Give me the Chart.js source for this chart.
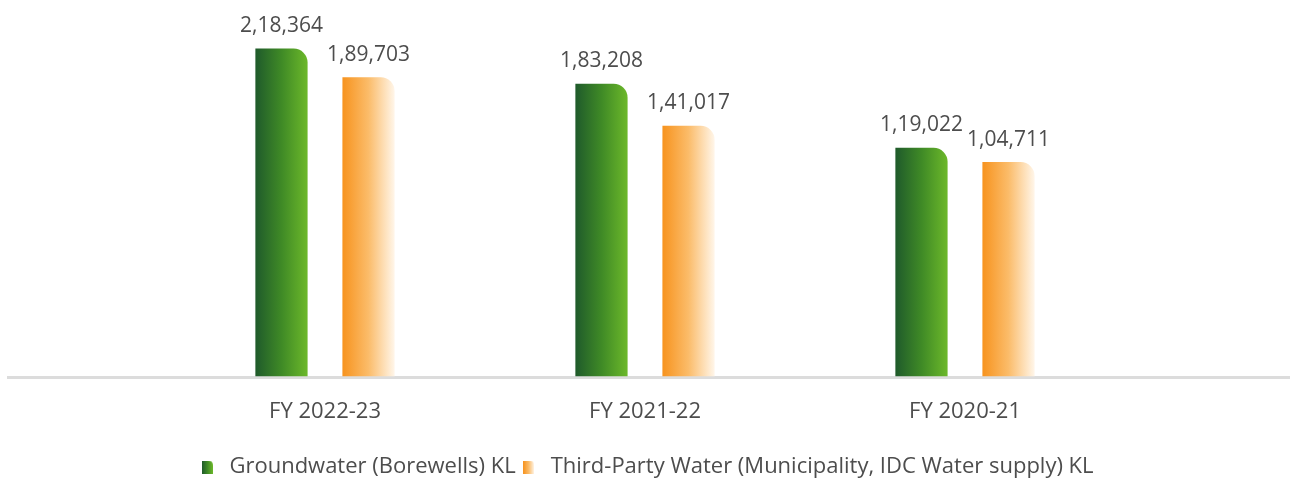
<!DOCTYPE html>
<html>
<head>
<meta charset="utf-8">
<script src="https://cdn.jsdelivr.net/npm/chart.js@4"></script>
<style>
  html, body { margin: 0; padding: 0; background: #fff; }
  #wrap { width: 1290px; height: 482px; position: relative; }
</style>
</head>
<body>
<div id="wrap"><canvas id="waterChart"></canvas></div>
<script>
const categories = ['FY 2022-23', 'FY 2021-22', 'FY 2020-21'];
const groundwater = [218364, 183208, 119022];
const thirdParty = [189703, 141017, 104711];
const seriesNames = ['Groundwater (Borewells) KL', 'Third-Party Water (Municipality, IDC Water supply) KL'];

const FONT = '"Open Sans", sans-serif';
const TEXT = '#4d4d4d';
const AXIS_MIN = -110000; // bars start from the baseline, not from zero

// left -> right gradient stops for each series
const greenStops = ['#1f5a2b', '#3f8a26', '#6cb82a'];
const orangeStops = ['#f7931e', '#fbbc6a', '#fff6ea'];

// Indian digit grouping: 2,18,364
function fmt(n) {
  const s = String(n);
  if (s.length <= 3) return s;
  let last3 = s.slice(-3);
  let rest = s.slice(0, -3).replace(/\B(?=(\d{2})+(?!\d))/g, ',');
  return rest + ',' + last3;
}

function makeGrad(c, x0, x1, stops) {
  const g = c.createLinearGradient(x0, 0, x1, 0);
  stops.forEach((col, i) => g.addColorStop(i / (stops.length - 1), col));
  return g;
}

function legendIcon(stops) {
  const cv = document.createElement('canvas');
  cv.width = 11; cv.height = 13;
  const c = cv.getContext('2d');
  c.fillStyle = makeGrad(c, 0, 11, stops);
  c.beginPath();
  c.moveTo(0, 0);
  c.lineTo(6, 0);
  c.quadraticCurveTo(11, 0, 11, 5);
  c.lineTo(11, 13);
  c.lineTo(0, 13);
  c.closePath();
  c.fill();
  return cv;
}

// options are per bar (scriptable colour), so each bar gets its own gradient
const barGradients = {
  id: 'barGradients',
  beforeDatasetsDraw(chart) {
    const c = chart.ctx;
    chart.data.datasets.forEach((ds, di) => {
      chart.getDatasetMeta(di).data.forEach(bar => {
        const x0 = bar.x - bar.width / 2;
        bar.options.backgroundColor = makeGrad(c, x0, x0 + bar.width, ds.gradStops);
      });
    });
  }
};

const baseLine = {
  id: 'baseLine',
  beforeDatasetsDraw(chart) {
    const c = chart.ctx;
    const y = chart.chartArea.bottom + 1;
    c.save();
    c.strokeStyle = '#dcdcdc';
    c.lineWidth = 3;
    c.beginPath();
    c.moveTo(7, y);
    c.lineTo(chart.width, y);
    c.stroke();
    c.restore();
  }
};

const valueLabels = {
  id: 'valueLabels',
  afterDatasetsDraw(chart) {
    const c = chart.ctx;
    c.save();
    c.font = '21px ' + FONT;
    c.fillStyle = TEXT;
    c.textAlign = 'center';
    c.textBaseline = 'bottom';
    chart.data.datasets.forEach((ds, di) => {
      chart.getDatasetMeta(di).data.forEach((bar, i) => {
        c.fillText(fmt(ds.data[i]), bar.x, bar.y - 12);
      });
    });
    c.restore();
  }
};

new Chart(document.getElementById('waterChart'), {
  type: 'bar',
  data: {
    labels: categories,
    datasets: [
      {
        label: seriesNames[0],
        data: groundwater,
        gradStops: greenStops,
        backgroundColor: () => '#3f8a26',
        pointStyle: legendIcon(greenStops),
        base: AXIS_MIN,
        borderRadius: { topRight: 14 },
        borderSkipped: false,
        barPercentage: 0.6,
        categoryPercentage: 0.544
      },
      {
        label: seriesNames[1],
        data: thirdParty,
        gradStops: orangeStops,
        backgroundColor: () => '#f7931e',
        pointStyle: legendIcon(orangeStops),
        base: AXIS_MIN,
        borderRadius: { topRight: 14 },
        borderSkipped: false,
        barPercentage: 0.6,
        categoryPercentage: 0.544
      }
    ]
  },
  options: {
    responsive: true,
    maintainAspectRatio: false,
    animation: false,
    layout: { padding: { left: 165, right: 165, top: 0, bottom: -6 } },
    scales: {
      x: {
        grid: { display: false, drawTicks: false },
        border: { display: false },
        ticks: { color: TEXT, font: { family: FONT, size: 22 }, padding: 22 },
        afterFit(scale) { scale.height += 7; }
      },
      y: {
        display: false,
        min: AXIS_MIN,
        max: 267000
      }
    },
    plugins: {
      tooltip: { enabled: false },
      legend: {
        position: 'bottom',
        labels: {
          usePointStyle: true,
          color: TEXT,
          font: { family: FONT, size: 22 },
          padding: 2
        }
      }
    }
  },
  plugins: [barGradients, baseLine, valueLabels]
});
</script>
</body>
</html>
